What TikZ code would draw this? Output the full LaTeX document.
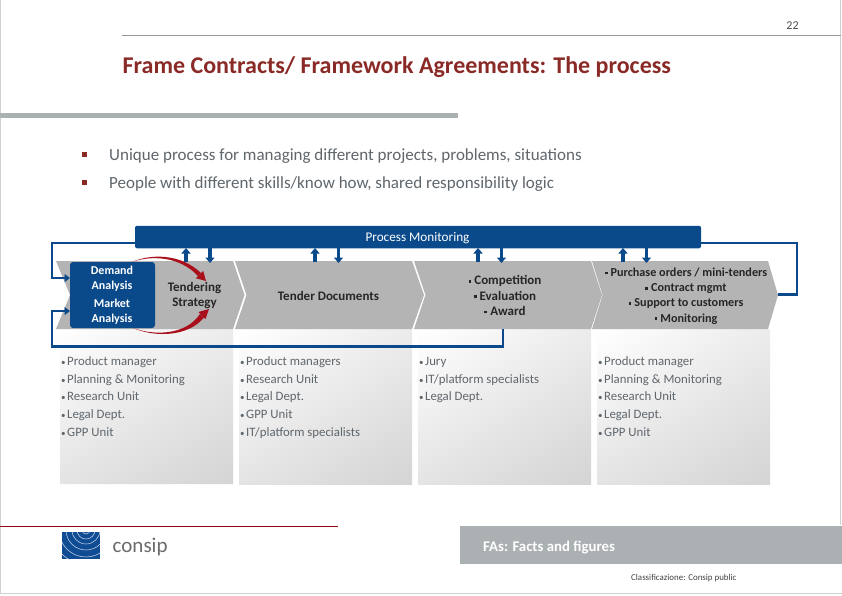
\documentclass[tikz,border=0pt]{standalone}
\usepackage{fontspec}
\setmainfont{Carlito}
\usetikzlibrary{arrows.meta,calc,shadings}
\definecolor{navy}{HTML}{0B4A8A}
\definecolor{wine}{HTML}{8A2A27}
\definecolor{slate}{HTML}{5F666C}
\definecolor{chev}{HTML}{B4B4B4}
\definecolor{barg}{HTML}{ABB0B3}
\definecolor{redarc}{HTML}{A80F1A}
\definecolor{logoblue}{HTML}{0F4C94}
\definecolor{ECECEC}{HTML}{ECECEC}
\definecolor{E6E6E6}{HTML}{E4E4E4}
\definecolor{D4D4D4}{HTML}{D4D4D4}
\tikzset{
  x=1pt,y=-1pt,
  chevron/.style={fill=chev,draw=none},
  panel/.style={upper left=white,upper right=ECECEC,lower left=E6E6E6,lower right=D4D4D4},
  flow/.style={draw=navy,line width=2.4pt,-{Triangle[length=5.5pt,width=8pt]}},
  plainflow/.style={draw=navy,line width=2.4pt},
  tick/.style={draw=navy,line width=3.2pt,-{Triangle[length=5.5pt,width=9pt]}},
  heading/.style={anchor=west,inner sep=0pt,font=\bfseries\fontsize{24}{26}\selectfont,text=wine},
  lead/.style={anchor=west,inner sep=0pt,font=\fontsize{17}{20}\selectfont,text=slate},
  sq/.style={fill=wine,draw=none},
  steptext/.style={align=center,inner sep=0pt,font=\bfseries\fontsize{13}{15.3}\selectfont,text=black!85},
  steptextsm/.style={align=center,inner sep=0pt,font=\bfseries\fontsize{12.2}{15.3}\selectfont,text=black!85},
  boxtext/.style={align=center,inner sep=0pt,font=\bfseries\fontsize{12}{15}\selectfont,text=white},
  people/.style={anchor=north west,align=left,inner sep=0pt,font=\fontsize{12.8}{17.8}\selectfont,text=slate},
  redtail/.style={fill=redarc,draw=none},
}
\newcommand{\dotb}{\rule{0pt}{10pt}{\fontsize{9}{9}\selectfont\textbullet}\hspace{1.5pt}}
\newcommand{\sqb}{\raisebox{2pt}{\rule{2.8pt}{2.8pt}}\hspace{3pt}}
\begin{document}
\begin{tikzpicture}
\useasboundingbox (0,0) rectangle (842,595);
\fill[white] (0,0) rectangle (842,595);
% page frame
\draw[black!18,line width=1pt] (0.5,0) -- (0.5,593.5) -- (842,593.5);
\draw[black!18,line width=1pt] (840.5,0) -- (840.5,525);
\draw[black!40,line width=1pt] (122,35.5) -- (841,35.5);
\node[inner sep=0pt,font=\fontsize{12}{14}\selectfont,text=black!70] (pg) at (792.5,25.5) {22};
% title
\node[heading] (title) at (122.5,67) {Frame Contracts/ Framework Agreements: The process};
\fill[barg] (0,112.5) rectangle (458,118);
% lead lines
\fill[sq] (82,151.5) rectangle (87,156.5);
\fill[sq] (82,179.5) rectangle (87,184.5);
\node[lead] (l1) at (109,156) {Unique process for managing different projects, problems, situations};
\node[lead] (l2) at (109,184) {People with different skills/know how, shared responsibility logic};
% panels
\shade[panel] (56,329) -- (233,329) -- (233,484) -- (60,484) -- (60,346) -- (56,346) -- cycle;
\shade[panel] (239,329) rectangle (412,484);
\shade[panel] (418,329) rectangle (591,484);
\shade[panel] (597,329) rectangle (770,484);
% chevrons
\fill[chevron] (56,261) -- (233,261) -- (244.5,295) -- (233,329) -- (56,329) -- (70,295) -- cycle;
\fill[chevron] (235,261) -- (412,261) -- (424,295) -- (412,329) -- (235,329) -- (246.5,295) -- cycle;
\fill[chevron] (414,261) -- (591,261) -- (602,295) -- (591,329) -- (414,329) -- (425.5,295) -- cycle;
\fill[chevron] (592,261) -- (768,261) -- (778,295) -- (768,329) -- (592,329) -- (602.5,295) -- cycle;
% demand box
\node[fill=navy,rounded corners=3pt,minimum width=85pt,minimum height=66pt,inner sep=0pt] (box) at (112.5,295) {};
\node[boxtext] (da) at (112,279) {Demand\\Analysis};
\node[boxtext] (ma) at (112,311.5) {Market\\Analysis};
% texts in chevrons
\node[steptext] (ts) at (194.5,295.5) {Tendering\\Strategy};
\node[steptext] (td) at (328.5,295.5) {Tender Documents};
\node[steptext] (ce) at (505,295.5) {\sqb Competition\\\sqb Evaluation\\\sqb Award};
\node[steptextsm] (po) at (686,296) {\sqb Purchase orders / mini-tenders\\\sqb Contract mgmt\\\sqb Support to customers\\\sqb Monitoring};
% process monitoring bar
\node[fill=navy,rounded corners=2pt,minimum width=566pt,minimum height=22.5pt,inner sep=0pt] (pm) at (418,237) {};
\node[inner sep=0pt,text=white,font=\fontsize{13.2}{15}\selectfont] (pmt) at (417.5,238.5) {Process Monitoring};
% ticks
\foreach \n/\xu/\xd in {a/186/210,b/315/338.5,c/478/501.5,d/623/646.5}{
  \coordinate (u\n t) at (\xu,248);
  \coordinate (u\n b) at (\xu,262);
  \coordinate (d\n t) at (\xd,248);
  \coordinate (d\n b) at (\xd,263);
  \draw[tick] (u\n b) -- (u\n t);
  \draw[tick] (d\n t) -- (d\n b);
}
% monitoring loops
\coordinate (lt) at (135,243);
\coordinate (lm) at (70,278);
\draw[flow] (lt) -- (52,243) -- (52,278) -- (lm);
\coordinate (lb) at (70,311);
\coordinate (aw) at (503,329);
\draw[flow] (aw) -- (503,346.5) -- (52,346.5) -- (52,311) -- (lb);
\coordinate (rt) at (701,243);
\coordinate (rm) at (778,294.5);
\draw[plainflow] (rt) -- (797,243) -- (797,294.5) -- (rm);
% red arcs (tapered)
\fill[redtail] (132,262) .. controls (150,254) and (180,253) .. (201,273)
  -- (198,276) .. controls (179,255.5) and (150,255.5) .. (132,262) -- cycle;
\fill[redtail] (206,281) -- (203.2,270.8) -- (195.8,278.2) -- cycle;
\fill[redtail] (133,328) .. controls (155,337.5) and (188,337) .. (204,317.5)
  -- (200,314) .. controls (186,335) and (155,336) .. (133,328) -- cycle;
\fill[redtail] (209,309) -- (205.5,319) -- (198.5,312) -- cycle;
% people lists
\node[people] (p1) at (61,355) {\dotb Product manager\\\dotb Planning \& Monitoring\\\dotb Research Unit\\\dotb Legal Dept.\\\dotb GPP Unit};
\node[people] (p2) at (240,355) {\dotb Product managers\\\dotb Research Unit\\\dotb Legal Dept.\\\dotb GPP Unit\\\dotb IT/platform specialists};
\node[people] (p3) at (419,355) {\dotb Jury\\\dotb IT/platform specialists\\\dotb Legal Dept.};
\node[people] (p4) at (598,355) {\dotb Product manager\\\dotb Planning \& Monitoring\\\dotb Research Unit\\\dotb Legal Dept.\\\dotb GPP Unit};
% footer
\draw[redarc!85!black,line width=0.9pt] (0,526) -- (338,526);
\begin{scope}
\clip (62,532) rectangle (100,559);
\fill[logoblue] (62,532) rectangle (100,559);
\foreach \r in {4,9,14,20,27,34}{
  \draw[white!80!logoblue,line width=0.5pt] (86,530) circle (\r);
}
\end{scope}
\node[anchor=west,inner sep=0pt,font=\fontsize{21}{24}\selectfont,text=black!58] (cs) at (112.5,547) {consip};
\fill[barg] (460,526) rectangle (842,564);
\node[anchor=west,inner sep=0pt,text=white,font=\bfseries\fontsize{14.8}{17}\selectfont] (fa) at (483,548) {FAs: Facts and figures};
\node[anchor=west,inner sep=0pt,text=black!75,font=\fontsize{8.9}{10}\selectfont] (cl) at (631,578.5) {Classificazione: Consip public};
\end{tikzpicture}
\end{document}
